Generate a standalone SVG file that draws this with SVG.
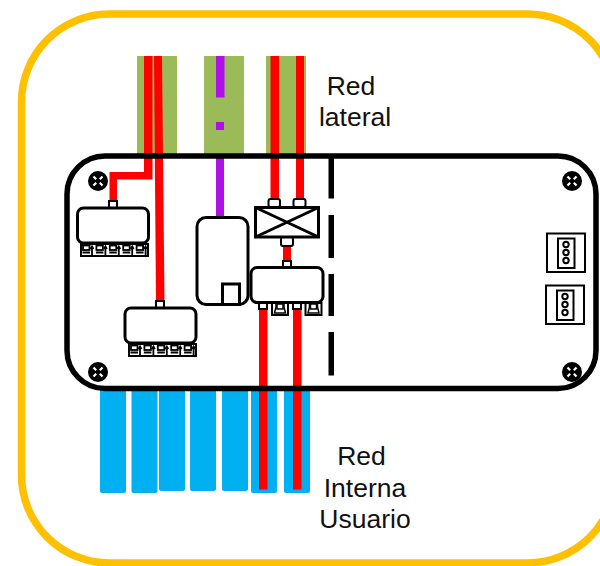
<svg xmlns="http://www.w3.org/2000/svg" width="600" height="566" viewBox="0 0 600 566" xmlns:xlink="http://www.w3.org/1999/xlink">
<style>
.g{fill:#9BBB59}.b{fill:#00B0F0}.r{fill:#FF0000}.p{fill:#B010E8}
.box{fill:#fff;stroke:#000;stroke-width:3}
.thin{fill:#fff;stroke:#000;stroke-width:2}
.t{font-family:"Liberation Sans",Arial,sans-serif;font-size:26.5px;fill:#111;text-anchor:middle}
</style>
<defs>
<g id="screw"><circle r="10" fill="#000"/><path d="M-4.500-4.500L-1.800-1.800M4.500-4.500L1.800-1.800M-4.500 4.500L-1.800 1.800M4.500 4.500L1.800 1.800" stroke="#fff" stroke-width="2.200" fill="none"/></g>
<g id="cell"><rect x="2" y="1.500" width="6.500" height="4.500" fill="#fff" stroke="#000" stroke-width="1.800"/><path d="M1.500 8.500H9M11 2V11M9.500 5L11 2.500L12.500 5" stroke="#000" stroke-width="1.800" fill="none"/></g>
<g id="bank"><rect x="0" y="0" width="67" height="12" fill="#fff" stroke="#000" stroke-width="2"/><use xlink:href="#cell" x="0"/><use xlink:href="#cell" x="13.400"/><use xlink:href="#cell" x="26.800"/><use xlink:href="#cell" x="40.200"/><use xlink:href="#cell" x="53.600"/></g>
<g id="port"><rect x="0" y="0" width="16" height="12" fill="#fff" stroke="#000" stroke-width="2"/><path d="M4 1V4L2.500 10H13.500L12 4V1" fill="#fff" stroke="#000" stroke-width="1.500"/><rect x="5" y="1" width="6" height="5" fill="#fff" stroke="#000" stroke-width="1.500"/></g>
<g id="jack"><rect x="0" y="0" width="38" height="38.500" fill="#fff" stroke="#000" stroke-width="2"/><rect x="11" y="5" width="16.500" height="29.500" fill="#fff" stroke="#000" stroke-width="2"/><circle cx="19" cy="11" r="2.700" fill="#fff" stroke="#000" stroke-width="2"/><circle cx="19" cy="19" r="2.700" fill="#fff" stroke="#000" stroke-width="2"/><circle cx="19" cy="27" r="2.700" fill="#fff" stroke="#000" stroke-width="2"/></g>
</defs>
<rect width="600" height="566" fill="#fff"/>
<rect id="enclosure" x="21.500" y="14" width="594" height="549" rx="88" fill="#fff" stroke="#FFC000" stroke-width="7.500"/>
<g id="lateral-bands">
<rect class="g" x="137" y="56" width="40" height="100"/>
<rect class="g" x="204" y="56" width="40" height="100"/>
<rect class="g" x="266" y="56" width="40" height="100"/>
</g>
<g id="internal-bands">
<rect class="b" x="100" y="385" width="26" height="108" rx="2"/>
<rect class="b" x="131.500" y="385" width="26" height="108" rx="2"/>
<rect class="b" x="159" y="385" width="26" height="106" rx="2"/>
<rect class="b" x="190" y="385" width="26" height="106" rx="2"/>
<rect class="b" x="222" y="385" width="26" height="106" rx="2"/>
<rect class="b" x="251" y="385" width="26" height="108" rx="2"/>
<rect class="b" x="284" y="385" width="26" height="108" rx="2"/>
</g>
<rect id="panel" x="67" y="156" width="529" height="232.500" rx="38" fill="#fff"/>
<g id="connectors">
<path class="r" d="M144 56H152.500V179.500H117V202H109.500V172H144Z"/>
<path class="r" d="M154 56H162L164.500 303H156Z"/>
<rect class="r" x="270.500" y="56" width="8.500" height="144"/>
<rect class="r" x="296" y="56" width="8" height="144"/>
<rect class="p" x="216" y="56" width="8.500" height="41.500"/>
<rect class="p" x="216" y="122" width="8" height="8"/>
<rect class="p" x="216" y="158" width="8" height="60"/>
<rect class="r" x="283" y="245" width="8" height="20"/>
<rect class="r" x="259" y="308" width="8.500" height="181.500"/>
<rect class="r" x="293" y="308" width="8.500" height="181.500"/>
</g>
<rect id="panel-outline" x="67" y="156" width="529" height="232.500" rx="38" fill="none" stroke="#000" stroke-width="5.500"/>
<g id="divider" fill="#000">
<rect x="328.500" y="157" width="5.500" height="41.500"/>
<rect x="328.500" y="215" width="5.500" height="43"/>
<rect x="328.500" y="274" width="5.500" height="42"/>
<rect x="328.500" y="332" width="5.500" height="43.500"/>
</g>
<g id="screws">
<use xlink:href="#screw" x="98" y="181"/>
<use xlink:href="#screw" x="572" y="181"/>
<use xlink:href="#screw" x="98" y="372"/>
<use xlink:href="#screw" x="572" y="372"/>
</g>
<g id="splitter-a">
<rect class="thin" x="109" y="201" width="8" height="7"/>
<use xlink:href="#bank" x="81" y="244"/>
<rect class="box" x="77.500" y="208" width="71" height="35" rx="6"/>
</g>
<g id="splitter-b">
<rect class="thin" x="156" y="301" width="8" height="7"/>
<use xlink:href="#bank" x="129" y="344"/>
<rect class="box" x="125" y="308" width="71" height="35" rx="6"/>
</g>
<g id="module">
<rect class="box" x="197" y="217.500" width="51" height="87" rx="9"/>
<rect class="box" x="222.500" y="284" width="17" height="20.500"/>
</g>
<g id="coupler">
<rect class="thin" x="268.500" y="199" width="11.500" height="8" rx="2"/>
<rect class="thin" x="293.500" y="199" width="12" height="8" rx="2"/>
<rect class="thin" x="281" y="237" width="12" height="9" rx="2"/>
<rect class="box" x="255.500" y="207.500" width="63" height="29.500"/>
<path d="M255.500 207.500L318.500 237M318.500 207.500L255.500 237" stroke="#000" stroke-width="3" fill="none"/>
</g>
<g id="splitter-c">
<rect class="thin" x="283" y="261" width="8" height="6"/>
<rect class="thin" x="259" y="302" width="8" height="7"/>
<rect class="thin" x="293" y="302" width="8" height="7"/>
<use xlink:href="#port" x="272" y="303"/>
<use xlink:href="#port" x="305.500" y="303"/>
<rect class="box" x="251" y="267.500" width="72" height="35" rx="6"/>
</g>
<g id="jacks">
<use xlink:href="#jack" x="547" y="233.500"/>
<use xlink:href="#jack" x="546" y="285.500"/>
</g>
<g id="labels">
<text class="t" x="351" y="95">Red</text>
<text class="t" x="355" y="126">lateral</text>
<text class="t" x="361.500" y="465">Red</text>
<text class="t" x="365" y="497">Interna</text>
<text class="t" x="365" y="528">Usuario</text>
</g>
</svg>
